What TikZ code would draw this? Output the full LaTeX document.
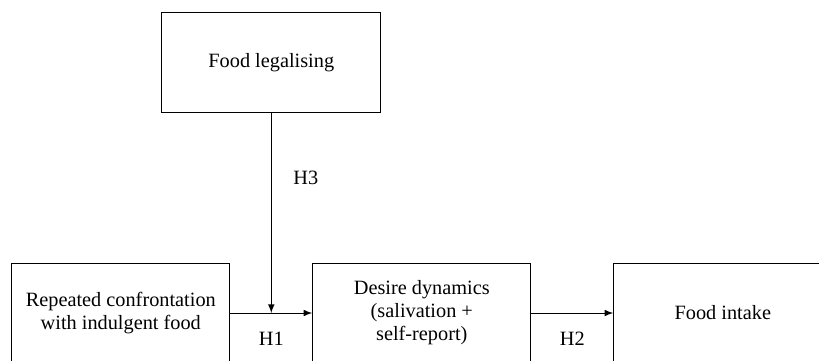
\documentclass[tikz,border=0pt]{standalone}
\usepackage{fontspec}
\setmainfont{Liberation Serif}
\newfontfamily\boxfont{Liberation Serif}
\usetikzlibrary{positioning,
    arrows,
    calc}

\begin{document}
\begin{tikzpicture} [->,
    > = latex,
    line width = 0.5pt,
    node distance = 41pt,
    every node/.style = {font = \boxfont\fontsize{10.15}{11.5}\selectfont},
    box/.style = {draw, ->, minimum width = 109pt, minimum height = 50pt,
        inner sep = 0pt, align = center}]
\useasboundingbox (0,0) rectangle (409.5pt,-180pt);
\node[box] (rep) at (60.4pt,-156.5pt) {Repeated confrontation\\with indulgent food};
\node[box, right=of rep] (desire) {Desire dynamics\\(salivation +\\self-report)};
\node[box, right=of desire] (intake) {Food intake};
\coordinate (midrepdesire) at ($(rep.east)!0.5!(desire.west)$);
\node[box, minimum width = 109.5pt, above=100pt of midrepdesire] (legal) {Food legalising};

\draw (rep) edge node[below=6pt]{H1} (desire);
\draw (desire) edge node[below=6pt]{H2} (intake);
\draw (legal) edge node[right=7.5pt, pos=0.325]{H3} (midrepdesire);
\end{tikzpicture}
\end{document}
